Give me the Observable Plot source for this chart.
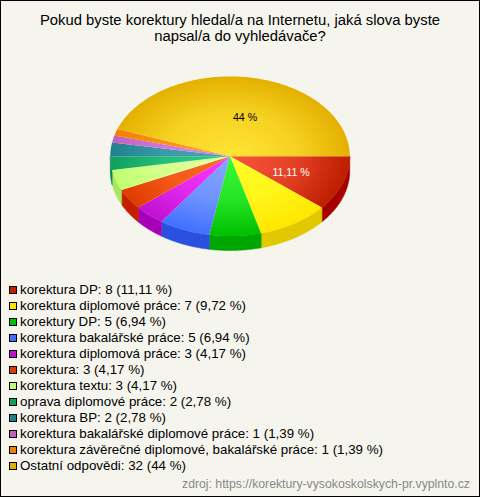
<!DOCTYPE html>
<html><head><meta charset="utf-8">
<script src="https://cdn.jsdelivr.net/npm/d3@7"></script>
<script src="https://cdn.jsdelivr.net/npm/@observablehq/plot@0.6"></script>
<style>
html,body{margin:0;padding:0;background:#f5f5ee}
#frame{position:relative;box-sizing:border-box;width:480px;height:497px;border:1px solid #000;background:#f5f5ee;font-family:"Liberation Sans",Arial,sans-serif;overflow:hidden}
#title{position:absolute;left:0;top:11px;width:478px;text-align:center;font-size:14.85px;line-height:16px;color:#000}
#chart{position:absolute;left:-1px;top:38px}
#legend{position:absolute;left:8px;top:280.5px;font-size:13.33px;color:#000}
#legend div{height:16px;line-height:16px;white-space:nowrap;display:flex;align-items:center}
#legend i{display:inline-block;box-sizing:border-box;width:8px;height:8px;border:1px solid #000;margin-right:3px}
#src{position:absolute;right:9px;top:476px;font-size:12.25px;color:#888}
</style></head><body>
<div id="frame">
<div id="title"></div>
<div id="chart"></div>
<div id="legend"></div>
<div id="src"></div>
</div>
<script>
const titleLines = ["Pokud byste korektury hledal/a na Internetu, jaká slova byste","napsal/a do vyhledávače?"];
const labels = ["korektura DP","korektura diplomové práce","korektury DP","korektura bakalářské práce","korektura diplomová práce","korektura","korektura textu","oprava diplomové práce","korektura BP","korektura bakalářské diplomové práce","korektura závěrečné diplomové, bakalářské práce","Ostatní odpovědi"];
const counts = [8,7,5,5,3,3,3,2,2,1,1,32];
const percents = ["11,11","9,72","6,94","6,94","4,17","4,17","4,17","2,78","2,78","1,39","1,39","44"];
const edge = ["#bf1d00","#ffe600","#00bf00","#4070ff","#c010d0","#e03c00","#c0ff70","#10a060","#208090","#c060c0","#f08000","#e4b000"];
const centre = ["#f8553a","#ffff28","#38f838","#88a8ff","#f838ff","#ff6a28","#e4ffa0","#30cc88","#48a8b8","#d888e8","#ff9c28","#ffe434"];
const side = ["#a60000","#e2c800","#00a600","#2a50e0","#a600b8","#c42000","#a8e860","#008a4c","#106a7a","#a848a8","#d86c00","#c89800"];
const sliceLabels = [{x:0.51,y:0.2,text:"11,11 %",color:"#fff"},{x:0.125,y:-0.49,text:"44 %",color:"#000"}];

document.getElementById("title").innerHTML = titleLines.join("<br>");
document.getElementById("legend").innerHTML = labels.map((l,i)=>
 `<div><i style="background:${edge[i]}"></i>${l}: ${counts[i]} (${percents[i]} %)</div>`).join("");
document.getElementById("src").textContent = "zdroj: https://korektury-vysokoskolskych-pr.vyplnto.cz";

// Data units: x in horizontal radii, y in vertical radii
const arcs = d3.pie().sort(null).startAngle(0).endAngle(2*Math.PI)(counts);
const depth = 14.5/80;
const step = Math.PI/180;
function arcPts(a0,a1){const p=[];const n=Math.max(2,Math.ceil((a1-a0)/step));
  for(let k=0;k<=n;k++){const t=a0+(a1-a0)*k/n;p.push([Math.cos(t),Math.sin(t)]);}return p;}
const tops=[], sides=[];
arcs.forEach((a,i)=>{
  [[0,0],...arcPts(a.startAngle,a.endAngle)].forEach(([x,y])=>tops.push({i,x,y}));
  // the wall is visible only on the near half of the rim
  const s=Math.max(a.startAngle,0), e=Math.min(a.endAngle,Math.PI);
  if(s<e){const r=arcPts(s,e);
    r.forEach(([x,y])=>sides.push({i,x,y}));
    r.slice().reverse().forEach(([x,y])=>sides.push({i,x,y:y+depth}));}
});
const W=480,H=240,cx=230,cy=117,rx=120,ry=80;
const chart = Plot.plot({
  width:W,height:H,margin:0,
  style:{background:"transparent",overflow:"visible"},
  x:{domain:[-cx/rx,(W-cx)/rx],range:[0,W],axis:null},
  y:{domain:[-cy/ry,(H-cy)/ry],range:[0,H],axis:null},
  color:{type:"identity"},
  marks:[
    Plot.line(sides,{x:"x",y:"y",z:"i",fill:d=>side[d.i],stroke:d=>side[d.i],strokeWidth:0.5,curve:"linear-closed"}),
    Plot.line(tops,{x:"x",y:"y",z:"i",fill:d=>`url(#g${d.i})`,curve:"linear-closed"}),
    Plot.text(sliceLabels,{x:"x",y:"y",text:"text",fill:"color",fontSize:10.67,fontWeight:"normal",fontFamily:"Liberation Sans, Arial, sans-serif"})
  ]
});
// radial shading of each slice, centred on the pie; stays light out to mid-radius
const svg=d3.select(chart);
const defs=svg.insert("defs",":first-child");
edge.forEach((c,i)=>{
  const g=defs.append("radialGradient").attr("id","g"+i).attr("gradientUnits","userSpaceOnUse")
    .attr("cx",0).attr("cy",0).attr("r",1)
    .attr("gradientTransform",`translate(${cx},${cy}) scale(${rx},${ry})`);
  g.append("stop").attr("offset",0).attr("stop-color",centre[i]);
  g.append("stop").attr("offset",0.55).attr("stop-color",d3.interpolateRgb(centre[i],c)(0.35));
  g.append("stop").attr("offset",1).attr("stop-color",c);
});
document.getElementById("chart").appendChild(chart);
</script>
</body></html>
